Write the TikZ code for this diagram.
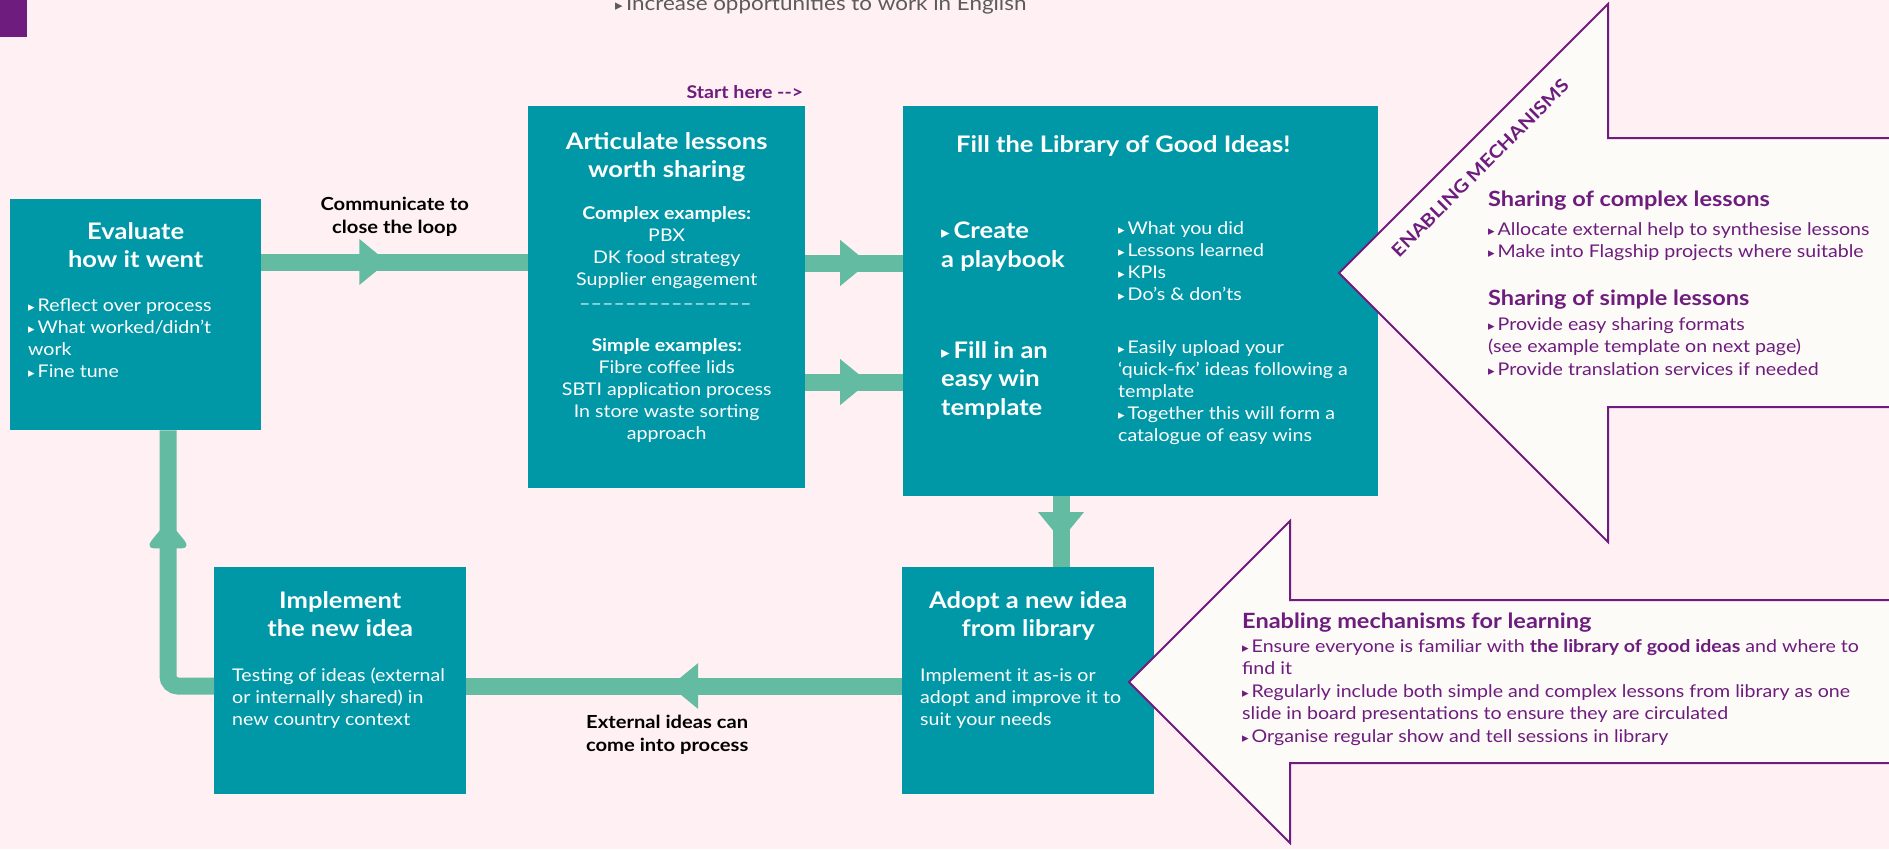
\documentclass[tikz,border=0pt]{standalone}
\usepackage{fontspec}
\setmainfont{Lato}[FakeStretch=1.12]
\newfontfamily\symb[Scale=0.75]{DejaVu Sans}
\usetikzlibrary{positioning, decorations.markings}

\definecolor{bgpink}{HTML}{FFF0F3}
\definecolor{boxteal}{HTML}{0097A7}
\definecolor{flowgreen}{HTML}{63BBA2}
\definecolor{mechpurple}{HTML}{6E1C7E}
\definecolor{arrowfill}{HTML}{FDFBF7}
\definecolor{graytext}{HTML}{5B5B5B}

% small pointer used in front of list items
\newcommand{\trg}{{\symb ▸}\,}
% row of dashes between the two kinds of examples
\newcommand{\dashrow}{\raisebox{5pt}{\foreach \i in {1,...,15}{\_\kern2.5pt}}}
% headings inside the two big arrows
\newcommand{\mechhead}{\bfseries\fontsize{21}{22.5}\selectfont}

\tikzset{
	box/.style={fill=boxteal, inner sep=0pt, anchor=north west},
	boxhead/.style={text=white, inner sep=0pt, align=center, font=\bfseries\fontsize{22.8}{28.5}\selectfont},
	boxtext/.style={text=white, inner sep=0pt, align=left, font=\fontsize{17.5}{22}\selectfont},
	flow/.style={draw=flowgreen, line width=17pt},
	midhead/.style={postaction={decorate, decoration={markings,
		mark=at position #1 with {\fill[flowgreen] (-14pt,-23pt) -- (14pt,0pt) -- (-14pt,23pt) -- cycle;}}}},
	flowlabel/.style={inner sep=0pt, align=center, font=\bfseries\fontsize{18}{23}\selectfont},
	mech/.style={draw=mechpurple, line width=2pt, fill=arrowfill, line join=miter},
	mechtext/.style={text=mechpurple, inner sep=0pt, align=left, font=\fontsize{17.5}{22.5}\selectfont},
}

\begin{document}
\begin{tikzpicture}[x=1pt, y=-1pt]
	\fill[bgpink] (0,0) rectangle (1889,849);
	\useasboundingbox (0,0) rectangle (1889,849);

	% header bits
	\fill[mechpurple] (0,0) rectangle (27,37);
	\node[inner sep=0pt, anchor=base west, text=graytext, font=\fontsize{20}{22}\selectfont] (topNote) at (615,10) {\trg Increase opportunities to work in English};

	% the five steps
	\node[box, minimum width=251pt, minimum height=231pt] (eval) at (10,199) {};
	\node[box, minimum width=277pt, minimum height=382pt] (artic) at (528,106) {};
	\node[box, minimum width=475pt, minimum height=390pt] (library) at (903,106) {};
	\node[box, minimum width=252pt, minimum height=227pt] (adopt) at (902,567) {};
	\node[box, minimum width=252pt, minimum height=227pt] (implement) at (214,567) {};

	\node[boxhead, below=23pt of eval.north] (evalHead) {Evaluate\\how it went};
	\node[boxtext, below right=100pt and 18pt of eval.north west] (evalText) {\trg Reflect over process\\\trg What worked/didn’t\\work\\\trg Fine tune};

	\node[inner sep=0pt, text=mechpurple, font=\bfseries\fontsize{17.5}{20}\selectfont, above left=7pt and 2pt of artic.north east] (startHere) {Start here {-}{-}>};
	\node[boxhead, below=26pt of artic.north] (articHead) {Articulate lessons\\worth sharing};
	\node[boxtext, align=center, below=100pt of artic.north] (articText) {\textbf{Complex examples:}\\PBX\\DK food strategy\\Supplier engagement\\\dashrow\\[22pt]\textbf{Simple examples:}\\Fibre coffee lids\\SBTI application process\\In store waste sorting\\approach};

	\node[boxhead, align=left, below right=29pt and 53pt of library.north west] (libHead) {Fill the Library of Good Ideas!};
	\node[boxhead, align=left, below right=116pt and 38pt of library.north west] (playbook) {\trg Create\\a playbook};
	\node[boxtext, below right=115pt and 215pt of library.north west] (playbookText) {\trg What you did\\\trg Lessons learned\\\trg KPIs\\\trg Do's \& don'ts};
	\node[boxhead, align=left, below right=235pt and 38pt of library.north west] (easyWin) {\trg Fill in an\\easy win\\template};
	\node[boxtext, below right=234pt and 215pt of library.north west] (easyWinText) {\trg Easily upload your\\‘quick-fix’ ideas following a\\template\\\trg Together this will form a\\catalogue of easy wins};

	\node[boxhead, below=24pt of adopt.north] (adoptHead) {Adopt a new idea\\from library};
	\node[boxtext, below right=101pt and 18pt of adopt.north west] (adoptText) {Implement it as-is or\\adopt and improve it to\\suit your needs};

	\node[boxhead, below=24pt of implement.north] (implHead) {Implement\\the new idea};
	\node[boxtext, below right=101pt and 18pt of implement.north west] (implText) {Testing of ideas (external\\or internally shared) in\\new country context};

	% flow between the steps
	\draw[flow, midhead=0.42] (eval.east |- 0,262) -- (artic.west |- 0,262)
		node[flowlabel, midway, above=17pt] (closeLoop) {Communicate to\\close the loop};
	\draw[flow, midhead=0.5] (artic.east |- 0,263) -- (library.west |- 0,263);
	\draw[flow, midhead=0.5] (artic.east |- 0,382) -- (library.west |- 0,382);
	\draw[flow, midhead=0.42] (library.south -| 1061,0) -- (adopt.north -| 1061,0);
	\draw[flow, midhead=0.5] (adopt.west |- 0,686) -- (implement.east |- 0,686)
		node[flowlabel, midway, below=21pt, xshift=-17pt] (extIdeas) {External ideas can\\come into process};
	\coordinate (loopCorner) at (168,686);
	\draw[flow, rounded corners=10pt, midhead=0.65] (implement.west |- loopCorner) -- (loopCorner) -- (eval.south -| loopCorner);

	% enabling mechanisms, top arrow
	\draw[mech] (1339,273) -- (1608,4) -- (1608,138) -- (1900,138) -- (1900,407) -- (1608,407) -- (1608,542) -- cycle;
	\node[mechtext, font=\bfseries\fontsize{18}{18}\selectfont, rotate=45] (mechTitle) at (1480,168) {ENABLING MECHANISMS};
	\node[mechtext, anchor=north west] (shareComplex) at (1488,191) {{\mechhead Sharing of complex lessons}\\[6pt]\trg Allocate external help to synthesise lessons\\\trg Make into Flagship projects where suitable};
	\node[mechtext, anchor=north west] (shareSimple) at (1488,290) {{\mechhead Sharing of simple lessons}\\[2pt]\trg Provide easy sharing formats\\(see example template on next page)\\\trg Provide translation services if needed};

	% enabling mechanisms, bottom arrow
	\draw[mech] (1129,682) -- (1290,521) -- (1290,600) -- (1900,600) -- (1900,763) -- (1290,763) -- (1290,843) -- cycle;
	\node[mechtext, anchor=north west] (learnText) at (1242,613) {{\mechhead Enabling mechanisms for learning}\\[1pt]\trg Ensure everyone is familiar with \textbf{the library of good ideas} and where to\\find it\\\trg Regularly include both simple and complex lessons from library as one\\slide in board presentations to ensure they are circulated\\\trg Organise regular show and tell sessions in library};
\end{tikzpicture}
\end{document}
